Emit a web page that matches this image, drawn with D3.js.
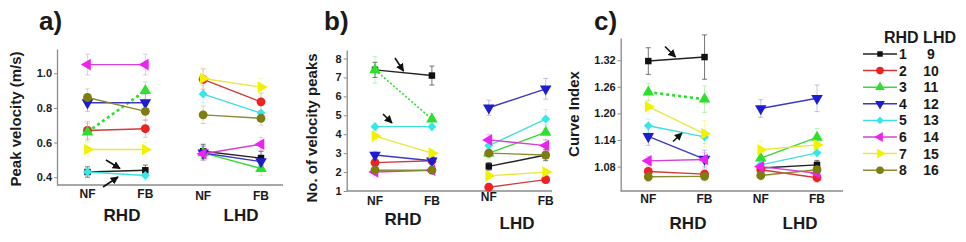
<!DOCTYPE html>
<html><head><meta charset="utf-8">
<script src="https://cdn.jsdelivr.net/npm/d3@7"></script>
<style>
body{margin:0;background:#fff}
svg{display:block}
text{font-family:"Liberation Sans",Arial,sans-serif;font-weight:bold;fill:#1a1a1a}
</style>
</head><body>
<svg id="chart" width="966" height="242"></svg>
<script>
// ---------- data ----------
const rhdIds = ["1","2","3","4","5","6","7","8"];
const lhdIds = ["9","10","11","12","13","14","15","16"];
const conditions = ["NF","FB","NF","FB"];
const groups = ["RHD","LHD"];
const seriesColors = ["#111111","#ee2222","#2ee02e","#1c1cd0","#33e8e8","#ee22ee","#f2f200","#7d7d12"];
const lineColors   = ["#222222","#d03a3a","#3ad83a","#3a3ac0","#40dede","#d640d6","#e8e840","#8a8a30"];
const seriesShapes = ["square","circle","up","down","diamond","left","right","circle"];

// a) Peak velocity (m/s) : [NF, FB]
const velRHD = [[0.43,0.44],[0.67,0.68],[0.66,0.90],[0.83,0.83],[0.43,0.41],[1.05,1.05],[0.56,0.56],[0.86,0.78]];
const velLHD = [[0.55,0.51],[0.965,0.835],[0.54,0.45],[0.54,0.49],[0.88,0.77],[0.535,0.59],[0.97,0.92],[0.76,0.74]];
const velErrRHD = [[0.03,0.03],[0.05,0.05],[0.05,0.05],[0.05,0.05],[0.03,0.03],[0.06,0.06],[0.04,0.04],[0.05,0.05]];
const velErrLHD = [[0.04,0.04],[0.06,0.05],[0.04,0.04],[0.04,0.04],[0.05,0.05],[0.04,0.04],[0.06,0.05],[0.05,0.04]];

// b) No. of velocity peaks : [NF, FB]
const peaksRHD = [[7.4,7.1],[2.5,2.6],[7.4,4.8],[2.9,2.6],[4.4,4.4],[2.0,2.1],[3.9,3.0],[2.1,2.1]];
const peaksLHD = [[2.3,2.9],[1.2,1.6],[3.0,4.1],[5.4,6.4],[3.4,4.8],[3.7,3.4],[1.8,2.0],[3.0,2.9]];
const peaksErrRHD = [[0.4,0.5],[0.2,0.2],[0.7,0.3],[0.2,0.2],[0.2,0.2],[0.2,0.2],[0.3,0.2],[0.2,0.2]];
const peaksErrLHD = [[0.2,0.3],[0.2,0.2],[0.3,0.4],[0.4,0.55],[0.3,0.5],[0.3,0.3],[0.2,0.2],[0.2,0.2]];

// c) Curve Index : [NF, FB]
const ciRHD = [[1.318,1.327],[1.069,1.063],[1.248,1.232],[1.148,1.097],[1.172,1.147],[1.093,1.096],[1.215,1.154],[1.057,1.058]];
const ciLHD = [[1.077,1.084],[1.073,1.055],[1.099,1.146],[1.211,1.234],[1.084,1.111],[1.080,1.065],[1.118,1.129],[1.060,1.073]];
const ciErrRHD = [[0.03,0.05],[0.01,0.01],[0.02,0.03],[0.02,0.02],[0.015,0.015],[0.01,0.015],[0.015,0.03],[0.01,0.01]];
const ciErrLHD = [[0.01,0.01],[0.01,0.01],[0.02,0.02],[0.02,0.03],[0.01,0.01],[0.01,0.01],[0.02,0.015],[0.01,0.01]];

const tickA = [0.4,0.6,0.8,1.0];
const tickB = [1,2,3,4,5,6,7,8];
const tickC = [1.08,1.14,1.20,1.26,1.32];

// ---------- layout ----------
const svg = d3.select("#chart");

const panels = [
  {letter:"a)", lx:39, title:"Peak velocity (m/s)", tx:21, ty:119,
   x0:57, x1:283, y0:185, y1:49, dom:[0.355,1.14], ticks:tickA, fmt:d3.format(".1f"),
   pos:[87.5,145.5,202.5,261], catY:[198,198,200,200], grpX:[122,241], grpY:[221,221],
   rhd:velRHD, lhd:velLHD, erhd:velErrRHD, elhd:velErrLHD, dashW:2.6, dash:"3,3",
   arrows:[[106,160,120,168.5],[103,187,118,177]]},
  {letter:"b)", lx:324, title:"No. of velocity peaks", tx:317, ty:128,
   x0:346.7, x1:552, y0:191, y1:50, dom:[1,8.45], ticks:tickB, fmt:d3.format("d"),
   pos:[375,431.7,488.3,545.7], catY:[205,205,201,205], grpX:[403,517], grpY:[225,229],
   rhd:peaksRHD, lhd:peaksLHD, erhd:peaksErrRHD, elhd:peaksErrLHD, dashW:1.6, dash:"2,2",
   arrows:[[395,58,403.5,71],[383,114,392,123]]},
  {letter:"c)", lx:594, title:"Curve Index", tx:579, ty:114,
   x0:620.7, x1:843, y0:191, y1:38, dom:[1.025,1.37], ticks:tickC, fmt:d3.format(".2f"),
   pos:[648.3,705,761,817], catY:[203,203,203,203], grpX:[688,800], grpY:[229,229],
   rhd:ciRHD, lhd:ciLHD, erhd:ciErrRHD, elhd:ciErrLHD, dashW:2.6, dash:"3,3",
   arrows:[[665,46.5,675.5,57],[673,141.5,682,133]]}
];

svg.append("defs").append("marker")
  .attr("id","ah").attr("viewBox","0 0 10 10").attr("refX",9).attr("refY",5)
  .attr("markerWidth",5).attr("markerHeight",5).attr("orient","auto")
  .append("path").attr("d","M0,0L10,5L0,10z").attr("fill","#111");

function symbolPath(shape){
  const sym = {square:d3.symbolSquare, circle:d3.symbolCircle, diamond:d3.symbolSquare}[shape] || d3.symbolTriangle;
  const size = shape==="square"?42:shape==="circle"?62:shape==="diamond"?40:58;
  return d3.symbol().type(sym).size(size)();
}
function symbolRot(shape){
  return {down:180,left:-90,right:90,diamond:45}[shape] || 0;
}

panels.forEach(p=>{
  const g = svg.append("g");
  const y = d3.scaleLinear().domain(p.dom).range([p.y0,p.y1]);
  const x = d3.scalePoint().domain(d3.range(conditions.length)).range([p.pos[0],p.pos[3]]);

  const ya = g.append("g").attr("transform",`translate(${p.x0},0)`)
    .call(d3.axisLeft(y).tickValues(p.ticks).tickFormat(p.fmt).tickSize(3).tickSizeOuter(0));
  ya.select(".domain").attr("stroke","#8a8a8a").attr("stroke-width",1.3);
  ya.selectAll(".tick line").attr("stroke","#8a8a8a");
  ya.selectAll(".tick text").attr("font-size",11).attr("font-family","Liberation Sans, Arial").attr("font-weight","bold").attr("fill","#1a1a1a").attr("x",-5);

  g.append("line").attr("x1",p.x0).attr("x2",p.x1).attr("y1",p.y0).attr("y2",p.y0)
    .attr("stroke","#8a8a8a").attr("stroke-width",1.3);

  conditions.forEach((c,i)=>{
    g.append("text").attr("x",x(i)).attr("y",p.catY[i]).attr("text-anchor","middle")
      .attr("font-size",12).text(c);
  });
  groups.forEach((gr,i)=>{
    g.append("text").attr("x",p.grpX[i]).attr("y",p.grpY[i]).attr("text-anchor","middle")
      .attr("font-size",17).text(gr);
  });
  g.append("text").attr("x",p.lx).attr("y",30).attr("font-size",26).text(p.letter);
  g.append("text").attr("transform",`translate(${p.tx},${p.ty}) rotate(-90)`)
    .attr("text-anchor","middle").attr("font-size",15).text(p.title);

  const sets = [{data:p.rhd, err:p.erhd, off:0},{data:p.lhd, err:p.elhd, off:2}];
  sets.forEach(s=>{
    s.data.forEach((vals,si)=>{
      vals.forEach((v,k)=>{
        const e = s.err[si][k];
        const cx = x(s.off+k);
        const col = si===0 ? "#555" : lineColors[si];
        const op = si===0 ? 0.8 : 0.3;
        const eg = g.append("g").attr("stroke",col).attr("stroke-opacity",op).attr("stroke-width",1);
        eg.append("line").attr("x1",cx).attr("x2",cx).attr("y1",y(v-e)).attr("y2",y(v+e));
        [v-e,v+e].forEach(t=>eg.append("line").attr("x1",cx-2.5).attr("x2",cx+2.5).attr("y1",y(t)).attr("y2",y(t)));
      });
    });
  });
  sets.forEach(s=>{
    s.data.forEach((vals,si)=>{
      const dotted = (s.off===0 && si===2);
      g.append("line").attr("x1",x(s.off)).attr("x2",x(s.off+1))
        .attr("y1",y(vals[0])).attr("y2",y(vals[1]))
        .attr("stroke",dotted?seriesColors[si]:lineColors[si])
        .attr("stroke-width",dotted?p.dashW:1.4)
        .attr("stroke-dasharray",dotted?p.dash:null);
    });
  });
  sets.forEach(s=>{
    s.data.forEach((vals,si)=>{
      vals.forEach((v,k)=>{
        g.append("path").attr("d",symbolPath(seriesShapes[si]))
          .attr("transform",`translate(${x(s.off+k)},${y(v)}) rotate(${symbolRot(seriesShapes[si])})`)
          .attr("fill",seriesColors[si]);
      });
    });
  });
  p.arrows.forEach(a=>{
    g.append("line").attr("x1",a[0]).attr("y1",a[1]).attr("x2",a[2]).attr("y2",a[3])
      .attr("stroke","#111").attr("stroke-width",1.6).attr("marker-end","url(#ah)");
  });
});

// legend
const lg = svg.append("g");
lg.append("text").attr("x",884).attr("y",43).attr("font-size",16).text("RHD LHD");
rhdIds.forEach((id,i)=>{
  const cy = 54 + i*16.6;
  lg.append("line").attr("x1",863).attr("x2",897).attr("y1",cy).attr("y2",cy)
    .attr("stroke",lineColors[i]).attr("stroke-width",1.5);
  lg.append("path").attr("d",symbolPath(seriesShapes[i]))
    .attr("transform",`translate(880,${cy}) rotate(${symbolRot(seriesShapes[i])}) scale(0.85)`)
    .attr("fill",seriesColors[i]);
  lg.append("text").attr("x",903).attr("y",cy+5).attr("text-anchor","middle").attr("font-size",14).text(id);
  lg.append("text").attr("x",931).attr("y",cy+5).attr("text-anchor","middle").attr("font-size",14).text(lhdIds[i]);
});
</script>
</body></html>
